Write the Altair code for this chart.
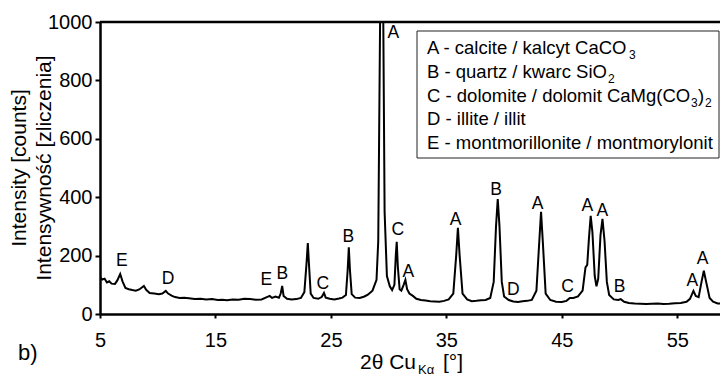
import altair as alt
import pandas as pd

# ---- diffraction pattern (2theta in degrees, counts) ----
two_theta = [5.0, 5.2, 5.4, 5.6, 5.8, 6.0, 6.3, 6.5, 6.75, 6.95, 7.2, 7.5, 7.8, 8.1, 8.4,
             8.8, 9.0, 9.3, 9.7, 10.1, 10.4, 10.7, 10.9, 11.2, 11.5, 11.9, 12.3, 12.7,
             13.2, 13.7, 14.2, 14.7, 15.2, 15.6, 16.0, 16.5, 17.0, 17.5, 18.0, 18.5,
             19.0, 19.4, 19.7, 19.9, 20.2, 20.5, 20.65, 20.78, 20.9, 21.2, 21.6, 22.0,
             22.4, 22.7, 22.9, 23.0, 23.1, 23.25, 23.5, 23.9, 24.2, 24.4, 24.55, 24.9,
             25.3, 25.7, 26.0, 26.3, 26.45, 26.55, 26.65, 26.8, 27.1, 27.5, 27.9, 28.2,
             28.6, 28.95, 29.1, 29.28, 29.4, 29.52, 29.65, 29.85, 30.1, 30.3, 30.5,
             30.62, 30.7, 30.8, 30.95, 31.1, 31.3, 31.45, 31.6, 31.8, 32.1, 32.4, 32.8,
             33.2, 33.6, 34.0, 34.4, 34.8, 35.2, 35.6, 35.85, 36.0, 36.15, 36.4, 36.8,
             37.2, 37.6, 38.0, 38.4, 38.8, 39.1, 39.3, 39.45, 39.6, 39.8, 40.0, 40.4,
             40.8, 41.2, 41.6, 42.0, 42.4, 42.8, 43.05, 43.2, 43.35, 43.6, 44.0, 44.5,
             45.0, 45.4, 45.7, 46.0, 46.4, 46.8, 47.05, 47.2, 47.35, 47.5, 47.65, 47.85,
             48.0, 48.15, 48.35, 48.52, 48.7, 48.9, 49.1, 49.5, 49.9, 50.1, 50.4, 50.8,
             51.3, 51.8, 52.3, 52.8, 53.3, 53.8, 54.3, 54.8, 55.3, 55.8, 56.1, 56.4,
             56.6, 56.85, 57.1, 57.3, 57.5, 57.8, 58.1, 58.5, 59.0, 59.4]
counts = [127, 118, 121, 108, 112, 104, 103, 115, 137, 112, 89, 85, 82, 80, 84,
          96, 83, 72, 70, 68, 70, 79, 70, 63, 58, 55, 56, 54,
          51, 52, 50, 51, 48, 49, 47, 50, 49, 52, 51, 49,
          50, 57, 62, 55, 60, 56, 70, 96, 62, 52, 50, 51,
          55, 75, 180, 243, 170, 70, 55, 52, 58, 72, 56, 52,
          50, 53, 56, 65, 150, 228, 150, 68, 56, 55, 60, 66,
          80, 117, 250, 1100, 1600, 1100, 350, 130, 95, 82, 100,
          200, 247, 160, 85, 80, 100, 117, 85, 70, 62, 52, 48,
          46, 44, 43, 42, 45, 50, 70, 200, 295, 200, 70, 50,
          44, 45, 47, 48, 55, 110, 300, 394, 300, 110, 60, 48,
          43, 41, 44, 45, 48, 80, 250, 350, 250, 70, 48, 42,
          41, 45, 55, 55, 60, 80, 160, 168, 260, 336, 280, 130,
          95, 120, 270, 326, 250, 110, 65, 50, 48, 51, 42, 38,
          36, 35, 34, 35, 36, 34, 35, 37, 38, 42, 52, 79,
          62, 58, 110, 148, 110, 55, 42, 36, 35, 33]

# ---- phase letters above the peaks ----
peak_x = [6.9, 10.9, 19.4, 20.8, 24.3, 26.5, 30.4, 30.8, 31.7, 35.8, 39.3, 40.8,
          42.9, 45.5, 47.2, 48.5, 50.0, 56.3, 57.2]
peak_y = [182, 120, 117, 137, 103, 264, 964, 288, 144, 322, 425, 82,
          377, 93, 370, 353, 93, 113, 189]
peak_txt = ["E", "D", "E", "B", "C", "B", "A", "C", "A", "A", "B", "D",
            "A", "C", "A", "A", "B", "A", "A"]

x_ticks = [5, 15, 25, 35, 45, 55]
y_ticks = [0, 200, 400, 600, 800, 1000]

legend_lines = ["A - calcite / kalcyt CaCO", "B - quartz / kwarc SiO",
                "C - dolomite / dolomit CaMg(CO", "D - illite / illit",
                "E - montmorillonite / montmorylonit"]
y_title = ["Intensity [counts]", "Intensywność [zliczenia]"]

FONT = "Liberation Sans"
W, H = 620, 292

pattern = pd.DataFrame({"t": two_theta, "c": counts})
labels = pd.DataFrame({"x": peak_x, "y": peak_y, "t": peak_txt})

xs = alt.Scale(domain=[5, 58.7], nice=False, zero=False)
ys = alt.Scale(domain=[0, 1000], nice=False)

line = alt.Chart(pattern).mark_line(color="black", strokeWidth=2, clip=True).encode(
    x=alt.X("t:Q", scale=xs,
            axis=alt.Axis(values=x_ticks, title=None, domainColor="black", domainWidth=2.5,
                          tickColor="black", tickWidth=2, tickSize=4, labelFontSize=20,
                          labelFont=FONT, labelColor="black", labelPadding=12, grid=False,
                          labelFlush=False, format="d")),
    y=alt.Y("c:Q", scale=ys,
            axis=alt.Axis(values=y_ticks, title=None, domainColor="black", domainWidth=2.5,
                          tickColor="black", tickWidth=2, tickSize=5, labelFontSize=20,
                          labelFont=FONT, labelColor="black", labelPadding=3, grid=False,
                          labelFlush=False, format="d")),
)

letters = alt.Chart(labels).mark_text(font=FONT, fontSize=17.5, color="black",
                                      baseline="middle", align="center").encode(
    x=alt.X("x:Q", scale=xs), y=alt.Y("y:Q", scale=ys), text="t:N")

one = pd.DataFrame({"k": [0]})


def txt(s, px, py, size, **kw):
    return alt.Chart(one).mark_text(text=s, font=FONT, fontSize=size, color="black", **kw).encode(
        x=alt.value(px), y=alt.value(py))


top_rule = alt.Chart(one).mark_rule(color="black", strokeWidth=2.5).encode(
    x=alt.value(0), x2=alt.value(W), y=alt.value(0))

box = alt.Chart(one).mark_rect(fill="white", stroke="#222", strokeWidth=1).encode(
    x=alt.value(317), x2=alt.value(619), y=alt.value(9), y2=alt.value(136))

layers = [line, top_rule, box, letters]

# legend text (page coords minus plot origin 100,22)
base_y = [32, 56, 80, 103, 127]
for s, by in zip(legend_lines, base_y):
    layers.append(txt(s, 327, by, 18.5, align="left", baseline="alphabetic"))
layers.append(txt("3", 529, 37, 12, align="left", baseline="alphabetic"))
layers.append(txt("2", 508, 61, 12, align="left", baseline="alphabetic"))
layers.append(txt("3", 591, 85, 12, align="left", baseline="alphabetic"))
layers.append(txt(")", 598, 80, 18.5, align="left", baseline="alphabetic"))
layers.append(txt("2", 605, 85, 12, align="left", baseline="alphabetic"))

# y-axis titles
layers.append(txt(y_title[0], -80, 146, 21, angle=270, align="center", baseline="middle"))
layers.append(txt(y_title[1], -55, 146, 21, angle=270, align="center", baseline="middle"))

# x-axis title with subscript
layers.append(txt("2θ Cu", 260, 347, 21, align="left", baseline="alphabetic"))
layers.append(txt("Kα", 318, 352, 13, align="left", baseline="alphabetic"))
layers.append(txt("[°]", 343, 347, 21, align="left", baseline="alphabetic"))

# panel letter
layers.append(txt("b)", -82, 338, 22, align="left", baseline="alphabetic"))

chart = alt.layer(*layers).properties(
    width=W, height=H,
    autosize=alt.AutoSizeParams(type="none"),
    padding={"left": 92, "top": 14, "right": 0, "bottom": 63},
).configure_view(stroke=None).configure(background="white")

chart.save("out.html", embed_options={"renderer": "svg", "actions": False})
